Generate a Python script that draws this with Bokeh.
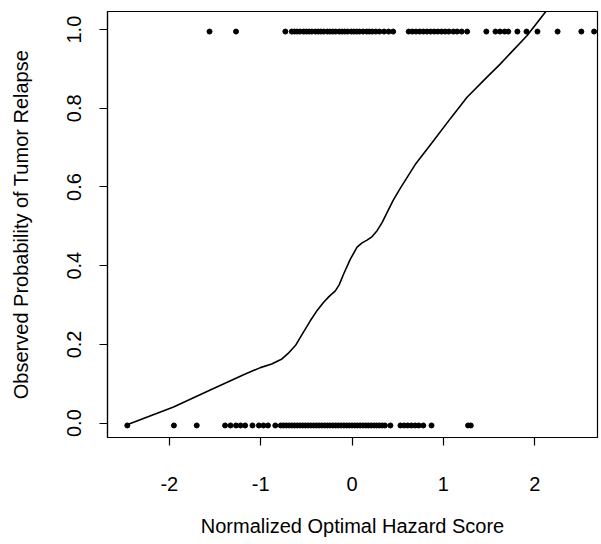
from bokeh.plotting import figure
from bokeh.models import Range1d, FixedTicker
from bokeh.embed import file_html
from bokeh.resources import INLINE

# Relapse = 0 observations (hazard score)
x_no_relapse = [-2.46, -1.95, -1.70, -1.39, -1.33, -1.27, -1.22, -1.17, -1.09,
                -1.02, -0.97, -0.92, -0.84, -0.78, -0.75, -0.72, -0.69, -0.66,
                -0.63, -0.60, -0.57, -0.54, -0.51, -0.48, -0.45, -0.42, -0.39,
                -0.36, -0.33, -0.30, -0.27, -0.24, -0.21, -0.18, -0.15, -0.12,
                -0.09, -0.06, -0.03, 0.00, 0.03, 0.06, 0.09, 0.12, 0.15, 0.18,
                0.21, 0.24, 0.27, 0.30, 0.33, 0.36, 0.42, 0.53, 0.57, 0.61,
                0.65, 0.69, 0.73, 0.78, 0.87, 1.27, 1.30]
y_no_relapse_level = -0.006

# Relapse = 1 observations (hazard score)
x_relapse = [-1.56, -1.27, -0.73, -0.66, -0.63, -0.60, -0.57, -0.53, -0.50,
             -0.47, -0.44, -0.40, -0.37, -0.34, -0.31, -0.27, -0.24, -0.21,
             -0.18, -0.14, -0.11, -0.08, -0.05, -0.01, 0.02, 0.05, 0.08, 0.12,
             0.16, 0.19, 0.22, 0.26, 0.30, 0.35, 0.40, 0.45, 0.62, 0.66, 0.70,
             0.74, 0.78, 0.82, 0.86, 0.90, 0.94, 0.98, 1.02, 1.06, 1.11, 1.15,
             1.20, 1.26, 1.47, 1.57, 1.62, 1.67, 1.71, 1.81, 1.91, 2.03, 2.25,
             2.51, 2.65]
y_relapse_level = 0.995

# Smoothed (lowess) probability curve
curve_x = [-2.47, -1.954, -1.552, -1.187, -1.004, -0.88, -0.767, -0.70,
           -0.62, -0.54, -0.457, -0.38, -0.311, -0.25, -0.183, -0.14, -0.092,
           -0.02, 0.055, 0.11, 0.164, 0.22, 0.274, 0.33, 0.383, 0.45, 0.529,
           0.70, 0.894, 1.08, 1.259, 1.45, 1.624, 1.917, 2.128]
curve_y = [-0.005, 0.041, 0.084, 0.123, 0.141, 0.150, 0.163, 0.177,
           0.197, 0.228, 0.260, 0.287, 0.307, 0.322, 0.336, 0.352, 0.379,
           0.416, 0.447, 0.458, 0.465, 0.474, 0.489, 0.510, 0.535, 0.566, 0.597,
           0.660, 0.718, 0.775, 0.828, 0.873, 0.913, 0.985, 1.048]

x_ticks = [-2, -1, 0, 1, 2]
x_tick_labels = {-2: "-2", -1: "-1", 0: "0", 1: "1", 2: "2"}
y_ticks = [0.0, 0.2, 0.4, 0.6, 0.8, 1.0]
y_tick_labels = {0.0: "0.0", 0.2: "0.2", 0.4: "0.4", 0.6: "0.6", 0.8: "0.8", 1.0: "1.0"}

FONT = "Liberation Sans"

p = figure(width=601, height=544, output_backend="svg", toolbar_location=None,
           x_range=Range1d(-2.677, 2.687), y_range=Range1d(-0.0366, 1.046),
           min_border_left=107, min_border_right=4, min_border_top=11,
           min_border_bottom=107)
p.background_fill_color = "white"
p.border_fill_color = "white"
p.outline_line_color = "black"
p.outline_line_width = 1.2
p.grid.visible = False

p.line(curve_x, curve_y, line_color="black", line_width=1.6)
p.scatter(x_no_relapse, [y_no_relapse_level] * len(x_no_relapse), size=5,
          fill_color="black", line_color="black")
p.scatter(x_relapse, [y_relapse_level] * len(x_relapse), size=5,
          fill_color="black", line_color="black")

xa = p.xaxis[0]
xa.ticker = FixedTicker(ticks=x_ticks)
xa.major_label_overrides = x_tick_labels
xa.axis_label = "Normalized Optimal Hazard Score"
ya = p.yaxis[0]
ya.ticker = FixedTicker(ticks=y_ticks)
ya.major_label_overrides = y_tick_labels
ya.axis_label = "Observed Probability of Tumor Relapse"
ya.major_label_orientation = "vertical"

for ax in (xa, ya):
    ax.axis_line_color = "black"
    ax.axis_line_width = 1.2
    ax.major_tick_line_color = "black"
    ax.major_tick_line_width = 1.2
    ax.major_tick_in = 0
    ax.major_tick_out = 8
    ax.minor_tick_line_color = None
    ax.major_label_text_font = FONT
    ax.major_label_text_font_size = "20px"
    ax.major_label_text_color = "black"
    ax.axis_label_text_font = FONT
    ax.axis_label_text_font_size = "20px"
    ax.axis_label_text_font_style = "normal"
    ax.axis_label_text_color = "black"

xa.major_label_standoff = 31
xa.axis_label_standoff = 21
ya.major_label_standoff = 18
ya.axis_label_standoff = 33

open("out.html", "w").write(file_html(p, INLINE))
